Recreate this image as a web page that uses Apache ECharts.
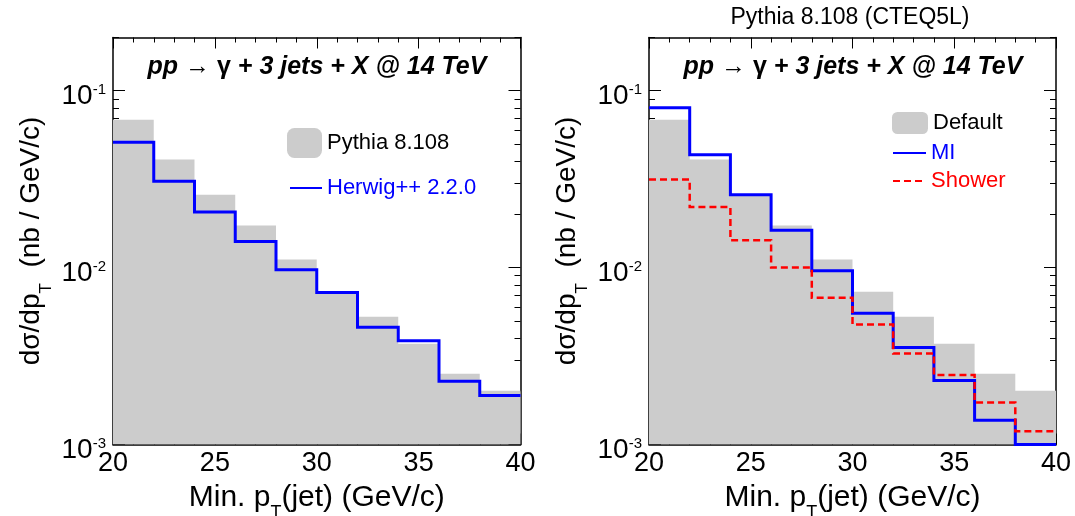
<!DOCTYPE html>
<html><head><meta charset="utf-8">
<script src="https://cdn.jsdelivr.net/npm/echarts@6/dist/echarts.min.js"></script>
<style>html,body{margin:0;padding:0;background:#fff}#c{width:1075px;height:516px}</style>
</head><body><div id="c"></div>
<script>
// ---- data ----
const binEdges = [20, 22, 24, 26, 28, 30, 32, 34, 36, 38, 40];
const pythiaDefault = [0.0686, 0.0408, 0.0258, 0.0173, 0.0111, 0.0073, 0.00527, 0.00371, 0.00251, 0.00201];
const herwig = [0.0512, 0.0308, 0.0206, 0.01406, 0.00973, 0.00724, 0.0046, 0.00386, 0.00228, 0.00189];
const miValues = [0.0801, 0.0434, 0.0258, 0.01626, 0.0096, 0.00552, 0.00353, 0.0023, 0.00137, 0.001];
const showerValues = [0.0315, 0.022, 0.01426, 0.0100, 0.00675, 0.00477, 0.00327, 0.00247, 0.00173, 0.00119];
const yMajorTicks = [0.001, 0.01, 0.1];
const yMinorTicks = [0.002, 0.003, 0.004, 0.005, 0.006, 0.007, 0.008, 0.009,
                     0.02, 0.03, 0.04, 0.05, 0.06, 0.07, 0.08, 0.09, 0.2];
const xRange = [20, 40];
const yRange = [0.001, 0.2];
const panelTitle = '{bi|pp }{n|\u2192 \u03b3}{bi| + 3 jets + X @ 14 TeV}';
const topTitle = 'Pythia 8.108 (CTEQ5L)';

const FONT = '"Liberation Sans", Arial, Helvetica, sans-serif';

function steps(vals) {
  return binEdges.map((e, i) => [e, vals[Math.min(i, vals.length - 1)]]);
}

const grids = [
  { left: 113, right: 554.5, top: 37.5, bottom: 71.5, outerBoundsMode: 'none', containLabel: false },
  { left: 649, right: 19, top: 37.5, bottom: 71.5, outerBoundsMode: 'none', containLabel: false }
];

const xAxes = [], yAxes = [];
grids.forEach((g, gi) => {
  ['bottom', 'top'].forEach(pos => {
    xAxes.push({
      type: 'value', gridIndex: gi, position: pos, min: xRange[0], max: xRange[1], interval: 5,
      axisLine: { show: true, onZero: false, lineStyle: { color: '#000', width: 1.5 } },
      axisTick: { show: true, inside: true, length: 11, lineStyle: { color: '#000', width: 1 } },
      minorTick: { show: true, splitNumber: 5, length: 5, lineStyle: { color: '#000', width: 1 } },
      splitLine: { show: false },
      axisLabel: { show: pos === 'bottom', fontSize: 27, fontFamily: FONT, color: '#000', margin: 6 },
      name: pos === 'bottom' ? '{m|Min. p}{t|T}{m|(jet) (GeV/c)}' : '',
      nameLocation: 'middle', nameGap: 34,
      nameTextStyle: {
        fontFamily: FONT, color: '#000', fontSize: 30,
        rich: {
          m: { fontSize: 30, lineHeight: 30, verticalAlign: 'top', fontFamily: FONT, color: '#000' },
          t: { fontSize: 18, lineHeight: 18, verticalAlign: 'top', padding: [22, 0, 0, 0], fontFamily: FONT, color: '#000' }
        }
      }
    });
  });
  ['left', 'right'].forEach(pos => {
    [true, false].forEach(major => {
      yAxes.push({
        type: 'log', logBase: 10, gridIndex: gi, position: pos, min: yRange[0], max: yRange[1],
        axisLine: { show: major, onZero: false, lineStyle: { color: '#000', width: 1.5 } },
        axisTick: { show: true, inside: true, length: major ? 12 : 6,
                    customValues: major ? yMajorTicks : yMinorTicks,
                    lineStyle: { color: '#000', width: 1 } },
        splitLine: { show: false },
        minorTick: { show: false },
        axisLabel: {
          show: major && pos === 'left', customValues: yMajorTicks, margin: 7,
          padding: [12, 0, 0, 0],
          formatter: v => '{b|10}{s|' + Math.round(Math.log10(v)) + '}',
          rich: {
            b: { fontSize: 28, lineHeight: 28, verticalAlign: 'top', fontFamily: FONT, color: '#000' },
            s: { fontSize: 15, lineHeight: 15, verticalAlign: 'top', fontFamily: FONT, color: '#000' }
          }
        },
        name: (major && pos === 'left') ? '{m|d\u03c3/dp}{t|T}{m|  (nb / GeV/c)}' : '',
        nameLocation: 'middle', nameRotate: 90, nameGap: 68,
        nameTextStyle: {
          fontFamily: FONT, color: '#000', fontSize: 28,
          rich: {
            m: { fontSize: 28, lineHeight: 28, verticalAlign: 'top', fontFamily: FONT, color: '#000' },
            t: { fontSize: 17, lineHeight: 17, verticalAlign: 'top', padding: [21, 0, 0, 0], fontFamily: FONT, color: '#000' }
          }
        }
      });
    });
  });
});

function histArea(name, vals, gi) {
  return {
    name, type: 'line', step: 'end', xAxisIndex: gi * 2, yAxisIndex: gi * 4,
    data: steps(vals), symbol: 'none', color: '#cccccc',
    lineStyle: { width: 0, color: '#cccccc' },
    areaStyle: { color: '#cccccc', opacity: 1, origin: 'start' },
    z: 1, animation: false
  };
}
function histLine(name, vals, gi, color, type, width) {
  return {
    name, type: 'line', step: 'end', xAxisIndex: gi * 2, yAxisIndex: gi * 4,
    data: steps(vals), symbol: 'none', color,
    lineStyle: { width, color, type, cap: 'butt', join: 'miter' },
    z: 3, animation: false
  };
}

const legendBase = { orient: 'vertical', padding: 0, selectedMode: false,
  textStyle: { fontSize: 22, fontFamily: FONT } };
function boxLegend(name, left, top, w, h) {
  return Object.assign({}, legendBase, { left, top, itemWidth: w, itemHeight: h,
    itemStyle: { borderWidth: 0 },
    data: [{ name, icon: 'roundRect', itemStyle: { color: '#cccccc', borderWidth: 0 }, textStyle: { color: '#000' } }] });
}
function lineLegend(name, left, top, w, color) {
  return Object.assign({}, legendBase, { left, top, itemWidth: w, itemHeight: 14,
    itemStyle: { opacity: 0 },
    data: [{ name, itemStyle: { opacity: 0 }, textStyle: { color } }] });
}

const option = {
  backgroundColor: '#fff',
  animation: false,
  grid: grids,
  xAxis: xAxes,
  yAxis: yAxes,
  title: [
    { text: panelTitle, left: 317, top: 55, textAlign: 'center', padding: 0,
      textStyle: { fontSize: 25, fontFamily: FONT, color: '#000',
        rich: { bi: { fontSize: 25, fontWeight: 'bold', fontStyle: 'italic', fontFamily: FONT, color: '#000' },
                n: { fontSize: 25, fontFamily: FONT, color: '#000' } } } },
    { text: panelTitle, left: 853, top: 55, textAlign: 'center', padding: 0,
      textStyle: { fontSize: 25, fontFamily: FONT, color: '#000',
        rich: { bi: { fontSize: 25, fontWeight: 'bold', fontStyle: 'italic', fontFamily: FONT, color: '#000' },
                n: { fontSize: 25, fontFamily: FONT, color: '#000' } } } },
    { text: topTitle, left: 850, top: 6, textAlign: 'center', padding: 0,
      textStyle: { fontSize: 23, fontWeight: 'normal', fontFamily: FONT, color: '#000' } }
  ],
  legend: [
    boxLegend('Pythia 8.108', 287, 128, 35, 30),
    lineLegend('Herwig++ 2.2.0', 289, 177, 32, '#0000ff'),
    boxLegend('Default', 892, 112, 36, 22),
    lineLegend('MI', 892, 142, 33, '#0000ff'),
    lineLegend('Shower', 892, 170, 33, '#ff0000')
  ],
  series: [
    histArea('Pythia 8.108', pythiaDefault, 0),
    histLine('Herwig++ 2.2.0', herwig, 0, '#0000ff', 'solid', 3),
    histArea('Default', pythiaDefault, 1),
    histLine('MI', miValues, 1, '#0000ff', 'solid', 3),
    histLine('Shower', showerValues, 1, '#ff0000', [7, 4], 2.5)
  ]
};

const chart = echarts.init(document.getElementById('c'), null, { renderer: 'canvas' });
chart.setOption(option);
</script>
</body></html>
